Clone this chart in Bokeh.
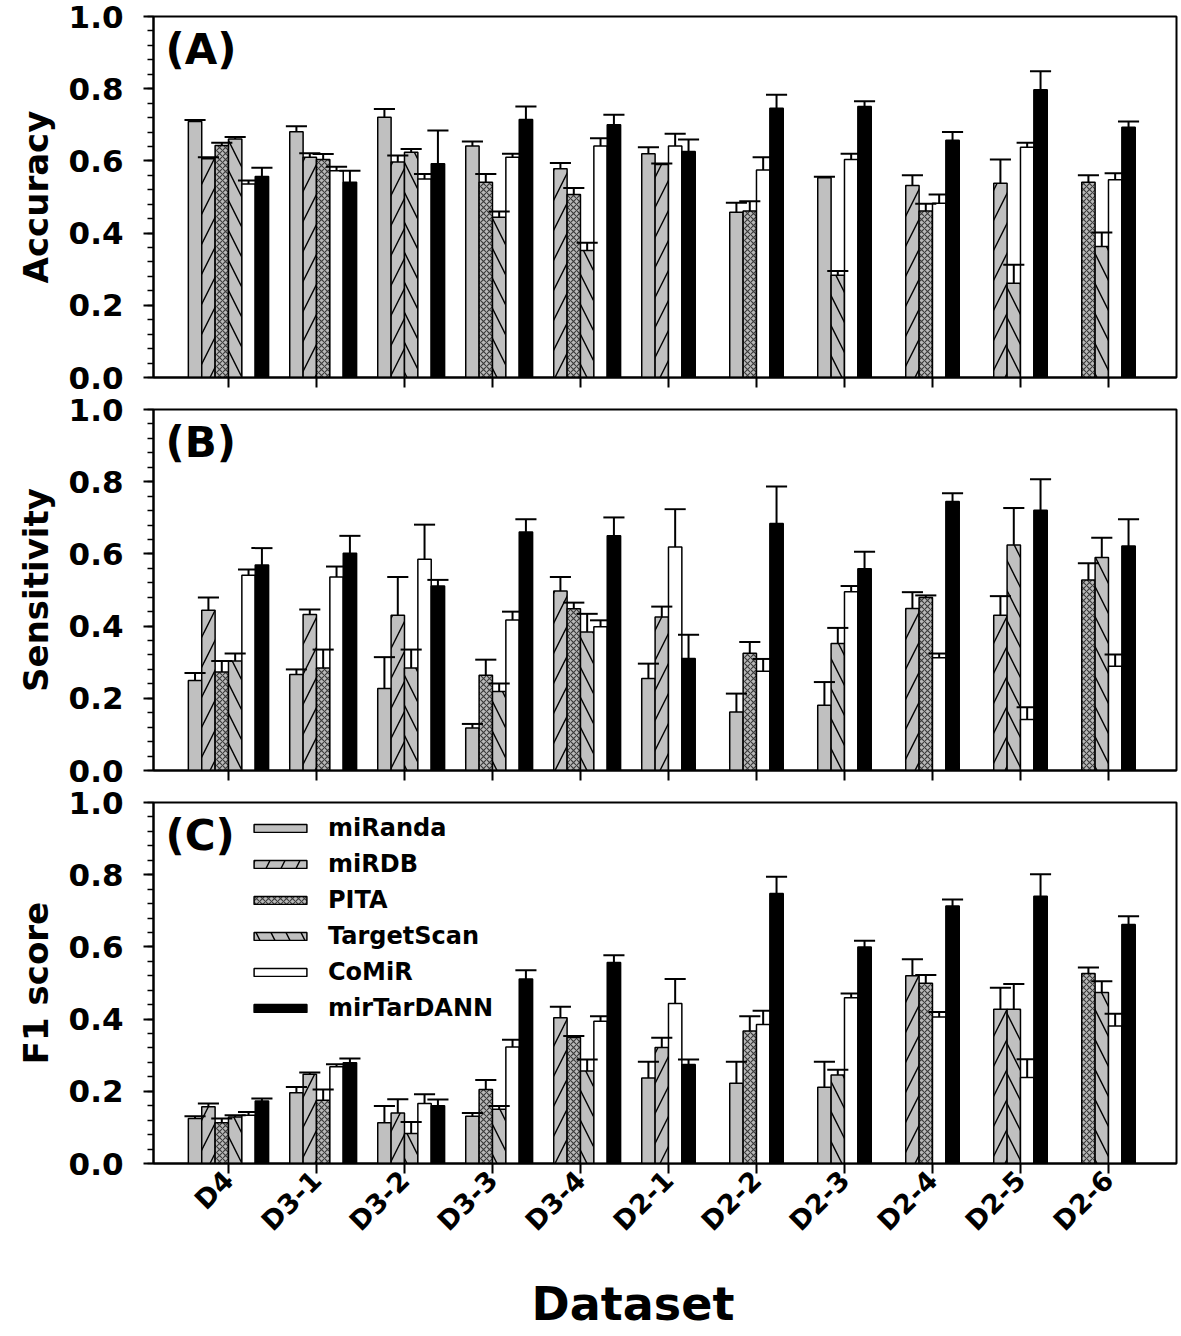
from bokeh.plotting import figure
from bokeh.models import (Range1d, FixedTicker, PrintfTickFormatter, Legend,
                          LegendItem, Label, ColumnDataSource)
from bokeh.layouts import column
from bokeh.embed import file_html
from bokeh.resources import INLINE

datasets = ["D4", "D3-1", "D3-2", "D3-3", "D3-4", "D2-1", "D2-2", "D2-3", "D2-4", "D2-5", "D2-6"]
methods = ["miRanda", "miRDB", "PITA", "TargetScan", "CoMiR", "mirTarDANN"]
N = None

# ---------------- Accuracy ----------------
acc_miranda = [0.709, 0.681, 0.721, 0.641, N, 0.620, 0.458, 0.553, N, N, N]
acc_miranda_err = [0.004, 0.015, 0.023, 0.013, N, 0.018, 0.026, 0.003, N, N, N]
acc_mirdb = [0.606, 0.610, 0.597, N, 0.578, 0.590, N, N, 0.532, 0.538, N]
acc_mirdb_err = [0.004, 0.011, 0.018, N, 0.016, 0.003, N, N, 0.028, 0.066, N]
acc_pita = [0.643, 0.604, N, 0.541, 0.507, N, 0.461, N, 0.461, N, 0.541]
acc_pita_err = [0.007, 0.015, N, 0.023, 0.018, N, 0.027, N, 0.020, N, 0.019]
acc_ts = [0.661, N, 0.624, 0.444, 0.352, N, N, 0.283, N, 0.261, 0.363]
acc_ts_err = [0.005, N, 0.009, 0.016, 0.021, N, N, 0.012, N, 0.051, 0.039]
acc_comir = [0.536, 0.573, 0.550, 0.610, 0.641, 0.641, 0.575, 0.604, 0.483, 0.638, 0.548]
acc_comir_err = [0.010, 0.011, 0.014, 0.010, 0.022, 0.034, 0.035, 0.016, 0.024, 0.012, 0.018]
acc_dann = [0.557, 0.541, 0.592, 0.715, 0.700, 0.626, 0.746, 0.751, 0.657, 0.797, 0.693]
acc_dann_err = [0.024, 0.032, 0.092, 0.036, 0.028, 0.033, 0.037, 0.014, 0.023, 0.051, 0.016]

# ---------------- Sensitivity ----------------
sen_miranda = [0.249, 0.266, 0.227, 0.118, N, 0.255, 0.162, 0.181, N, N, N]
sen_miranda_err = [0.021, 0.014, 0.087, 0.011, N, 0.041, 0.051, 0.064, N, N, N]
sen_mirdb = [0.444, 0.432, 0.430, N, 0.497, 0.425, N, N, 0.449, 0.430, N]
sen_mirdb_err = [0.035, 0.014, 0.106, N, 0.039, 0.029, N, N, 0.045, 0.053, N]
sen_pita = [0.273, 0.284, N, 0.264, 0.448, N, 0.325, N, 0.479, N, 0.528]
sen_pita_err = [0.030, 0.051, N, 0.043, 0.017, N, 0.031, N, 0.006, N, 0.046]
sen_ts = [0.303, N, 0.284, 0.219, 0.384, N, N, 0.352, N, 0.625, 0.590]
sen_ts_err = [0.021, N, 0.051, 0.022, 0.050, N, N, 0.043, N, 0.102, 0.055]
sen_comir = [0.541, 0.536, 0.585, 0.417, 0.398, 0.619, 0.275, 0.495, 0.312, 0.141, 0.289]
sen_comir_err = [0.016, 0.029, 0.096, 0.023, 0.018, 0.105, 0.034, 0.016, 0.012, 0.034, 0.032]
sen_dann = [0.569, 0.602, 0.511, 0.661, 0.650, 0.310, 0.684, 0.559, 0.745, 0.721, 0.622]
sen_dann_err = [0.047, 0.048, 0.017, 0.035, 0.051, 0.066, 0.103, 0.047, 0.023, 0.086, 0.074]

# ---------------- F1 score ----------------
f1_miranda = [0.125, 0.196, 0.113, 0.131, N, 0.237, 0.222, 0.211, N, N, N]
f1_miranda_err = [0.006, 0.016, 0.046, 0.009, N, 0.045, 0.060, 0.071, N, N, N]
f1_mirdb = [0.157, 0.247, 0.140, N, 0.404, 0.321, N, N, 0.520, 0.427, N]
f1_mirdb_err = [0.009, 0.005, 0.038, N, 0.030, 0.027, N, N, 0.046, 0.060, N]
f1_pita = [0.113, 0.175, N, 0.205, 0.349, N, 0.367, N, 0.499, N, 0.526]
f1_pita_err = [0.012, 0.030, N, 0.026, 0.004, N, 0.041, N, 0.023, N, 0.017]
f1_ts = [0.129, N, 0.083, 0.150, 0.256, N, N, 0.245, N, 0.427, 0.474]
f1_ts_err = [0.005, N, 0.032, 0.009, 0.032, N, N, 0.015, N, 0.070, 0.031]
f1_comir = [0.134, 0.268, 0.166, 0.323, 0.394, 0.443, 0.385, 0.459, 0.406, 0.238, 0.381]
f1_comir_err = [0.009, 0.007, 0.026, 0.020, 0.014, 0.068, 0.038, 0.012, 0.014, 0.051, 0.034]
f1_dann = [0.173, 0.279, 0.160, 0.511, 0.557, 0.274, 0.748, 0.600, 0.713, 0.740, 0.662]
f1_dann_err = [0.007, 0.012, 0.017, 0.024, 0.020, 0.014, 0.046, 0.017, 0.018, 0.061, 0.023]

y_ticks = [0.0, 0.2, 0.4, 0.6, 0.8, 1.0]

panels = [
    ("Accuracy", "(A)",
     [acc_miranda, acc_mirdb, acc_pita, acc_ts, acc_comir, acc_dann],
     [acc_miranda_err, acc_mirdb_err, acc_pita_err, acc_ts_err, acc_comir_err, acc_dann_err]),
    ("Sensitivity", "(B)",
     [sen_miranda, sen_mirdb, sen_pita, sen_ts, sen_comir, sen_dann],
     [sen_miranda_err, sen_mirdb_err, sen_pita_err, sen_ts_err, sen_comir_err, sen_dann_err]),
    ("F1 score", "(C)",
     [f1_miranda, f1_mirdb, f1_pita, f1_ts, f1_comir, f1_dann],
     [f1_miranda_err, f1_mirdb_err, f1_pita_err, f1_ts_err, f1_comir_err, f1_dann_err]),
]

FONT = "DejaVu Sans"
INK = "black"
W = 0.152          # bar width (data units)
CAP = 0.24         # error cap width (data units)
GRAY = "#c0c0c0"
styles = [
    dict(fill_color=GRAY),
    dict(fill_color=GRAY, hatch_pattern="/", hatch_scale=30, hatch_weight=1.4, hatch_color="black"),
    dict(fill_color="#b8b8b8", hatch_pattern="x", hatch_scale=6, hatch_weight=1.1, hatch_color="#3a3a3a"),
    dict(fill_color=GRAY, hatch_pattern="\\", hatch_scale=30, hatch_weight=1.4, hatch_color="black"),
    dict(fill_color="white"),
    dict(fill_color="black"),
]

FRAME_H = 361
TOTAL_W = 1181
BORDER_L = 153
BORDER_R = 5
X0, X1 = -0.852, 10.773


def bar_positions(vals):
    n = len(datasets)
    xs = [[None] * n for _ in vals]
    for i in range(n):
        present = [m for m in range(len(vals)) if vals[m][i] is not None]
        start = 0 if len(present) == len(vals) else 1
        for k, m in enumerate(present):
            xs[m][i] = i + (start + k - 2.5) * W
    return xs


figs = []
for idx, (ylabel, tag, vals, errs) in enumerate(panels):
    last = idx == len(panels) - 1
    top_b = 16
    bot_b = 172 if last else 16
    p = figure(width=TOTAL_W, height=top_b + FRAME_H + bot_b,
               x_range=Range1d(X0, X1), y_range=Range1d(0, 1),
               output_backend="svg", toolbar_location=None,
               min_border_left=BORDER_L, min_border_right=BORDER_R,
               min_border_top=top_b, min_border_bottom=bot_b)
    p.xgrid.visible = False
    p.ygrid.visible = False
    p.outline_line_color = "black"
    p.outline_line_width = 2
    p.background_fill_color = "white"
    p.border_fill_color = "white"

    xs = bar_positions(vals)
    bar_r = []
    err_srcs = []
    for m in range(len(methods)):
        d = dict(x=[], top=[], hi=[], cl=[], cr=[])
        for i in range(len(datasets)):
            if vals[m][i] is None:
                continue
            d["x"].append(xs[m][i])
            d["top"].append(vals[m][i])
            d["hi"].append(vals[m][i] + errs[m][i])
            d["cl"].append(xs[m][i] - CAP / 2)
            d["cr"].append(xs[m][i] + CAP / 2)
        src = ColumnDataSource(d)
        r = p.vbar(x="x", top="top", bottom=0, width=W, source=src,
                   line_color="black", line_width=1.5, **styles[m])
        bar_r.append(r)
        err_srcs.append(src)
    for src in err_srcs:
        p.segment(x0="x", y0="top", x1="x", y1="hi", source=src,
                  line_color="black", line_width=2)
        p.segment(x0="cl", y0="hi", x1="cr", y1="hi", source=src,
                  line_color="black", line_width=2)

    # y axis
    ya = p.yaxis[0]
    ya.ticker = FixedTicker(ticks=y_ticks,
                            minor_ticks=[round(k * 0.04, 2) for k in range(26)])
    ya.formatter = PrintfTickFormatter(format="%.1f")
    ya.axis_label = ylabel
    ya.axis_label_text_font = FONT
    ya.axis_label_text_font_style = "bold"
    ya.axis_label_text_font_size = "34px"
    ya.axis_label_text_color = INK
    ya.axis_label_standoff = 10
    ya.major_label_text_font = FONT
    ya.major_label_text_font_style = "bold"
    ya.major_label_text_font_size = "31px"
    ya.major_label_text_color = INK
    ya.major_label_standoff = 20
    ya.major_tick_out = 10
    ya.major_tick_in = 0
    ya.minor_tick_out = 6
    ya.minor_tick_in = 0
    ya.axis_line_width = 2
    ya.major_tick_line_width = 2
    ya.minor_tick_line_width = 1.5

    # x axis
    xa = p.xaxis[0]
    xa.ticker = FixedTicker(ticks=list(range(len(datasets))), minor_ticks=[])
    xa.major_tick_out = 10
    xa.major_tick_in = 0
    xa.minor_tick_out = 0
    xa.axis_line_width = 2
    xa.major_tick_line_width = 2
    if last:
        xa.major_label_overrides = {i: name for i, name in enumerate(datasets)}
        xa.major_label_orientation = 0.7853981633974483
        xa.major_label_text_font = FONT
        xa.major_label_text_font_style = "bold"
        xa.major_label_text_font_size = "27px"
        xa.major_label_text_color = INK
        xa.major_label_standoff = 2
        # non-breaking padding shifts the centred title left, as in the reference
        xa.axis_label = "Dataset" + "\u00a0" * 4
        xa.axis_label_text_font = FONT
        xa.axis_label_text_font_style = "bold"
        xa.axis_label_text_font_size = "46px"
        xa.axis_label_text_color = INK
        xa.axis_label_standoff = 26
    else:
        xa.major_label_overrides = {i: "" for i in range(len(datasets))}
        xa.major_label_standoff = 0

    p.add_layout(Label(x=12, y=FRAME_H - 8, x_units="screen", y_units="screen",
                       text=tag, text_font=FONT, text_font_style="bold",
                       text_color=INK,
                       text_font_size="42px", text_baseline="top", text_align="left"))

    if last:
        legend = Legend(items=[LegendItem(label=methods[m], renderers=[bar_r[m]])
                               for m in range(len(methods))],
                        location=(94, FRAME_H - 11 - 210),
                        label_text_font=FONT, label_text_font_style="bold",
                        label_text_color=INK,
                        label_text_font_size="24px", label_height=30,
                        glyph_height=10, glyph_width=66, label_standoff=15,
                        spacing=6, padding=0, margin=0,
                        border_line_alpha=0, background_fill_alpha=0)
        p.add_layout(legend)
    figs.append(p)

layout = column(*figs, spacing=0)
open("out.html", "w").write(file_html(layout, INLINE))
